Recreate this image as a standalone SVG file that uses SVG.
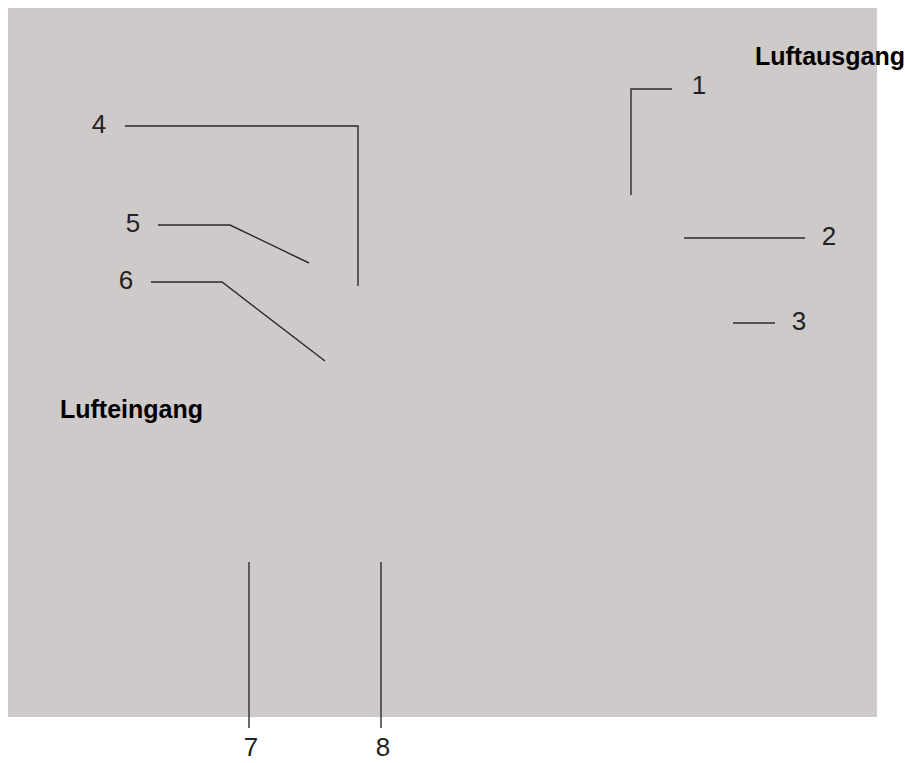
<svg xmlns="http://www.w3.org/2000/svg" width="905" height="763" viewBox="0 0 905 763">
<style>
.bg{fill:#cecac9}
.ln{fill:none;stroke:#2a2a2a;stroke-width:1.4}
.num{font-family:"Liberation Sans",Arial,sans-serif;font-size:26px;fill:#222;font-weight:normal}
.lbl{font-family:"Liberation Sans",Arial,sans-serif;font-size:25px;font-weight:bold;fill:#000}
</style>
<rect class="bg" x="8" y="8" width="869" height="709"/>
<g id="connectors">
<polyline class="ln" points="125,126 358,126 358,286"/>
<polyline class="ln" points="158,225 230,225 309,263"/>
<polyline class="ln" points="151,282 222,282 325,361"/>
<polyline class="ln" points="672,89 631,89 631,195"/>
<line class="ln" x1="684" y1="238" x2="805" y2="238"/>
<line class="ln" x1="733" y1="323" x2="775" y2="323"/>
<line class="ln" x1="249" y1="562" x2="249" y2="728"/>
<line class="ln" x1="381" y1="562" x2="381" y2="728"/>
</g>
<g id="n1"><text class="num" x="699" y="94" text-anchor="middle">1</text></g>
<g id="n2"><text class="num" x="829" y="245" text-anchor="middle">2</text></g>
<g id="n3"><text class="num" x="799" y="330" text-anchor="middle">3</text></g>
<g id="n4"><text class="num" x="99" y="133" text-anchor="middle">4</text></g>
<g id="n5"><text class="num" x="133" y="232" text-anchor="middle">5</text></g>
<g id="n6"><text class="num" x="126" y="289" text-anchor="middle">6</text></g>
<g id="n7"><text class="num" x="251" y="756" text-anchor="middle">7</text></g>
<g id="n8"><text class="num" x="383" y="756" text-anchor="middle">8</text></g>
<g id="luftausgang"><text class="lbl" x="755" y="65">Luftausgang</text></g>
<g id="lufteingang"><text class="lbl" x="60" y="418">Lufteingang</text></g>
</svg>
